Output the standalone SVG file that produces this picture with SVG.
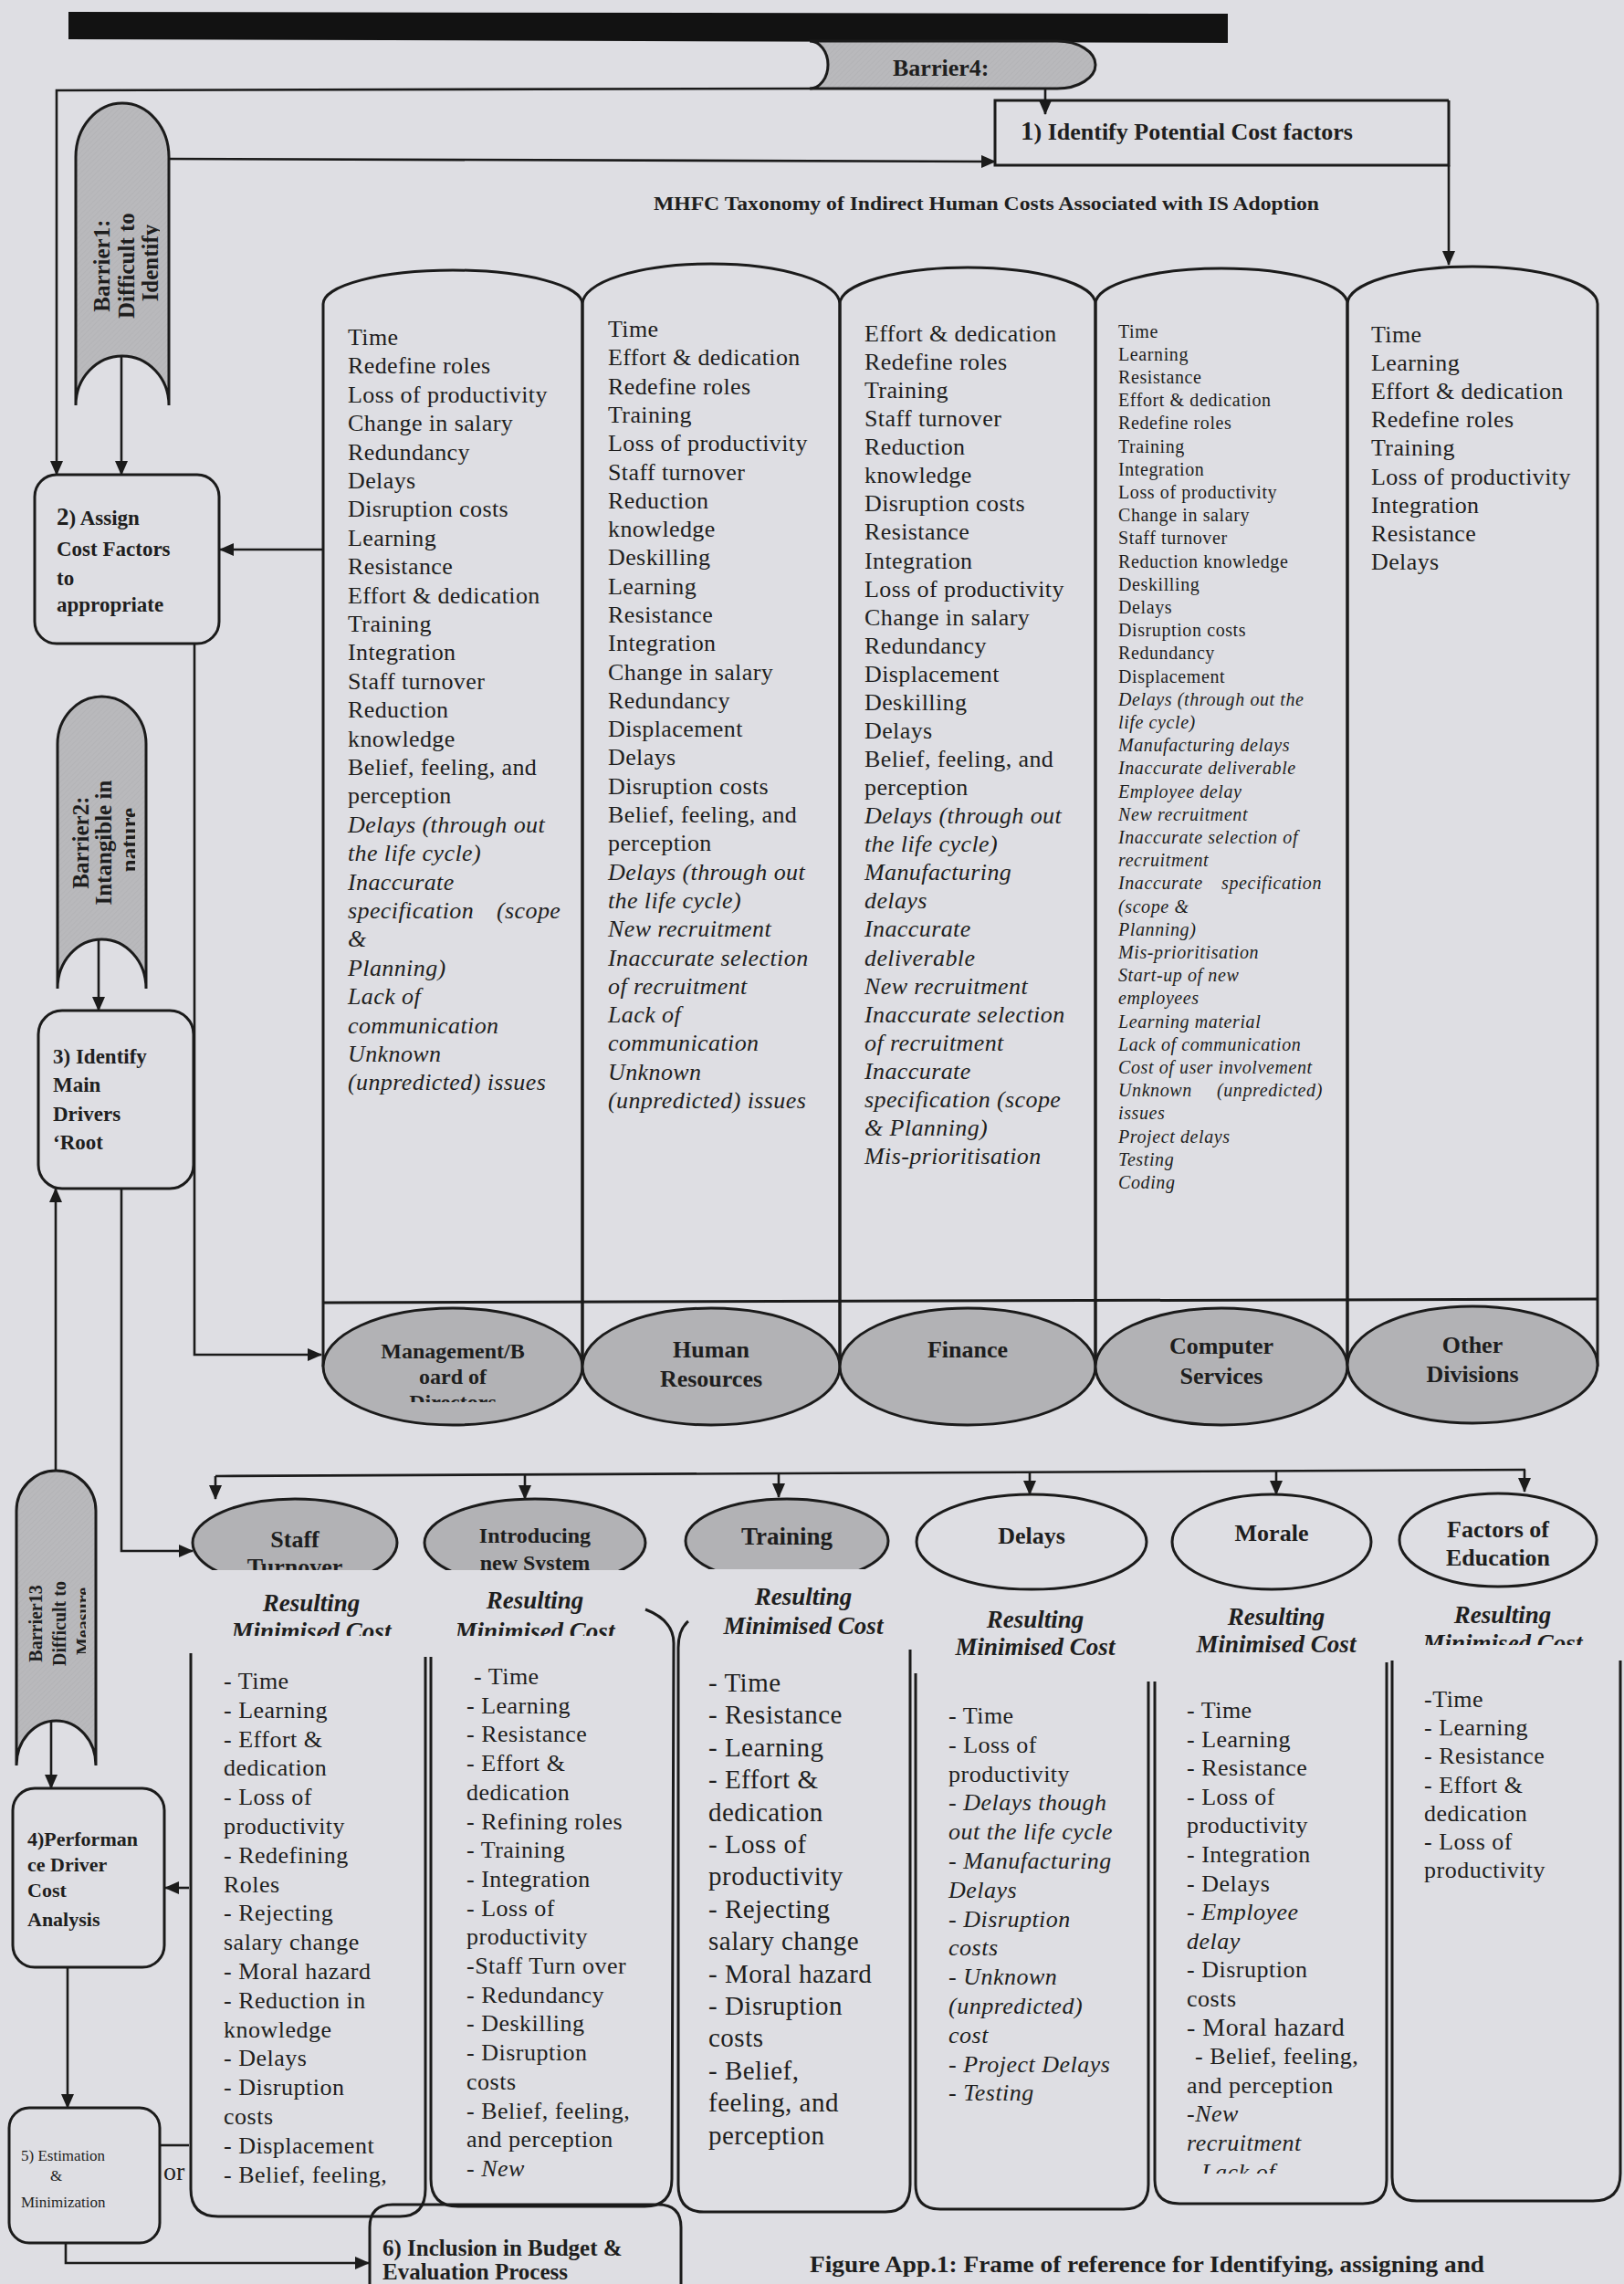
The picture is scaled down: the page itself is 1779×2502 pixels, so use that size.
<svg xmlns="http://www.w3.org/2000/svg" width="1779" height="2502" viewBox="0 0 1779 2502">
<defs>
<style>
.bg{fill:#dedee3}
.ln{fill:none;stroke:#1b1b1b;stroke-width:2.6}
.sh{fill:none;stroke:#1b1b1b;stroke-width:3}
.box{fill:none;stroke:#1b1b1b;stroke-width:3}
.bar{fill:url(#grain);stroke:#1b1b1b;stroke-width:3}
.ell{fill:#b2b2b5;stroke:#1b1b1b;stroke-width:3}
.oell{fill:none;stroke:#1b1b1b;stroke-width:3}
text{font-family:"Liberation Serif","Times New Roman",serif;fill:#1e1e1e}
.b{font-weight:bold}
.i{font-style:italic}
.col{font-size:26px;letter-spacing:0.4px}
.col4{font-size:20px;letter-spacing:0.6px}
.card{font-size:26px;letter-spacing:0.5px}
.card3{font-size:29px;letter-spacing:0.5px}
.step{font-size:23px;font-weight:bold}
.dept{font-size:26px;font-weight:bold}
.head{font-size:27px;font-weight:bold;font-style:italic}
</style>
<pattern id="grain" width="4" height="4" patternUnits="userSpaceOnUse" patternTransform="rotate(45)">
<rect width="4" height="4" fill="#b9b9bc"/>
<line x1="0" y1="0" x2="0" y2="4" stroke="#afafb2" stroke-width="1"/>
</pattern>
<marker id="ah" viewBox="0 0 16 14" refX="15" refY="7" markerWidth="16" markerHeight="14" markerUnits="userSpaceOnUse" orient="auto">
<path d="M0,0 L16,7 L0,14 Z" fill="#1b1b1b"/>
</marker>
<clipPath id="cB1"><rect x="80" y="100" width="95" height="360"/></clipPath>
<clipPath id="cB2"><rect x="60" y="750" width="88" height="340"/></clipPath>
<clipPath id="cB13"><rect x="15" y="1600" width="79" height="340"/></clipPath>
<clipPath id="cMgmt"><rect x="340" y="1420" width="320" height="116"/></clipPath>
<clipPath id="cStaff"><rect x="200" y="1630" width="250" height="90"/></clipPath>
<clipPath id="cIntro"><rect x="455" y="1630" width="265" height="90"/></clipPath>
<clipPath id="cTrain"><rect x="740" y="1630" width="245" height="89"/></clipPath>
<clipPath id="cH12"><rect x="200" y="1730" width="540" height="62"/></clipPath>
<clipPath id="cH6"><rect x="1520" y="1740" width="259" height="62"/></clipPath>
<clipPath id="cC5"><rect x="1262" y="1840" width="260" height="541"/></clipPath>
</defs>

<rect class="bg" x="0" y="0" width="1779" height="2502"/>

<!-- header band -->
<path d="M75,13 L1345,15 L1345,47 L75,43 Z" fill="#121212"/>

<!-- connectors -->
<g id="connectors">
<path class="ln" d="M890,97 L62,99 L62,520" marker-end="url(#ah)"/>
<path class="ln" d="M1145,97 L1145,125" marker-end="url(#ah)"/>
<path class="ln" d="M185,174 L1090,177" marker-end="url(#ah)"/>
<path class="ln" d="M1587,181 L1587,290" marker-end="url(#ah)"/>
<path class="ln" d="M133,390 L133,520" marker-end="url(#ah)"/>
<path class="ln" d="M354,602 L241,602" marker-end="url(#ah)"/>
<path class="ln" d="M213,705 L213,1484 L352,1484" marker-end="url(#ah)"/>
<path class="ln" d="M108,1029 L108,1107" marker-end="url(#ah)"/>
<path class="ln" d="M61,1611 L61,1302" marker-end="url(#ah)"/>
<path class="ln" d="M133,1302 L133,1699 L211,1699" marker-end="url(#ah)"/>
<path class="ln" d="M236,1617 L1671,1610"/>
<path class="ln" d="M236,1617 L236,1642" marker-end="url(#ah)"/>
<path class="ln" d="M575,1615 L575,1642" marker-end="url(#ah)"/>
<path class="ln" d="M853,1614 L853,1640" marker-end="url(#ah)"/>
<path class="ln" d="M1128,1613 L1128,1637" marker-end="url(#ah)"/>
<path class="ln" d="M1398,1612 L1398,1637" marker-end="url(#ah)"/>
<path class="ln" d="M1670,1610 L1670,1634" marker-end="url(#ah)"/>
<path class="ln" d="M56,1885 L56,1959" marker-end="url(#ah)"/>
<path class="ln" d="M207,2068 L181,2068" marker-end="url(#ah)"/>
<path class="ln" d="M74,2155 L74,2309" marker-end="url(#ah)"/>
<path class="ln" d="M175,2350 L207,2350"/>
<path class="ln" d="M72,2457 L72,2479 L404,2479" marker-end="url(#ah)"/>
</g>

<!-- barrier 4 -->
<g id="barrier4">
<path class="bar" d="M887,45 L1158,45 A42,26 0 0 1 1158,97 L887,97 A20,26 0 0 0 887,45 Z"/>
<text class="b" x="978" y="83" font-size="26">Barrier4:</text>
</g>

<!-- step 1 -->
<g id="step1">
<path class="box" d="M1587,110 L1090,110 L1090,181 L1587,181 L1587,110"/>
<text class="b" x="1118" y="153" font-size="26"><tspan font-size="29">1</tspan>) Identify Potential Cost factors</text>
</g>

<text class="b" x="716" y="230" font-size="20" textLength="729" lengthAdjust="spacingAndGlyphs">MHFC Taxonomy of Indirect Human Costs Associated with IS Adoption</text>

<!-- barrier 1 -->
<g id="barrier1">
<path class="bar" d="M83,444 L83,172 A51,59 0 0 1 185,172 L185,444 A51,54 0 0 0 83,444 Z"/>
<g clip-path="url(#cB1)">
<text class="b" font-size="25" text-anchor="middle" transform="translate(134,288) rotate(-90)">
<tspan x="0" y="-14">Barrier1:</tspan>
<tspan x="0" y="13">Difficult to</tspan>
<tspan x="0" y="39">Identify</tspan>
</text>
</g>
</g>

<!-- step 2 -->
<g id="step2">
<rect class="box" x="38" y="520" width="202" height="185" rx="24"/>
<text class="step" x="62" y="575"><tspan font-size="27">2</tspan>) Assign</text>
<text class="step" x="62" y="609">Cost Factors</text>
<text class="step" x="62" y="641">to</text>
<text class="step" x="62" y="670">appropriate</text>
</g>

<!-- barrier 2 -->
<g id="barrier2">
<path class="bar" d="M63,1083 L63,815 A48.5,52 0 0 1 160,815 L160,1083 A48.5,54 0 0 0 63,1083 Z"/>
<g clip-path="url(#cB2)">
<text class="b" font-size="25" text-anchor="middle" transform="translate(112,920) rotate(-90)">
<tspan x="0" y="-15">Barrier2:</tspan>
<tspan x="0" y="10">Intangible in</tspan>
<tspan x="0" y="38">nature</tspan>
</text>
</g>
</g>

<!-- step 3 -->
<g id="step3">
<rect class="box" x="42" y="1107" width="170" height="195" rx="26"/>
<text class="step" x="58" y="1165">3) Identify</text>
<text class="step" x="58" y="1196">Main</text>
<text class="step" x="58" y="1228">Drivers</text>
<text class="step" x="58" y="1259">‘Root</text>
</g>

<!-- department columns -->
<g id="columns">
<path class="sh" d="M354,1497 L354,333 A142,37 0 0 1 638,333 L638,1497"/>
<path class="sh" d="M638,1497 L638,333 A141,44 0 0 1 920,333 L920,1497"/>
<path class="sh" d="M920,1497 L920,333 A140,40 0 0 1 1200,333 L1200,1497"/>
<path class="sh" d="M1200,1497 L1200,333 A138,39 0 0 1 1476,333 L1476,1497"/>
<path class="sh" d="M1476,1497 L1476,333 A137,41 0 0 1 1750,333 L1750,1497"/>
<path class="sh" d="M354,1427 L1750,1423"/>
</g>

<g id="col-management">
<text class="col" x="381" y="378">
<tspan x="381">Time</tspan>
<tspan x="381" dy="31.4">Redefine roles</tspan>
<tspan x="381" dy="31.4">Loss of productivity</tspan>
<tspan x="381" dy="31.4">Change in salary</tspan>
<tspan x="381" dy="31.4">Redundancy</tspan>
<tspan x="381" dy="31.4">Delays</tspan>
<tspan x="381" dy="31.4">Disruption costs</tspan>
<tspan x="381" dy="31.4">Learning</tspan>
<tspan x="381" dy="31.4">Resistance</tspan>
<tspan x="381" dy="31.4">Effort &amp; dedication</tspan>
<tspan x="381" dy="31.4">Training</tspan>
<tspan x="381" dy="31.4">Integration</tspan>
<tspan x="381" dy="31.4">Staff turnover</tspan>
<tspan x="381" dy="31.4">Reduction</tspan>
<tspan x="381" dy="31.4">knowledge</tspan>
<tspan x="381" dy="31.4">Belief, feeling, and</tspan>
<tspan x="381" dy="31.4">perception</tspan>
<tspan class="i" x="381" dy="31.4">Delays (through out</tspan>
<tspan class="i" x="381" dy="31.4">the life cycle)</tspan>
<tspan class="i" x="381" dy="31.4">Inaccurate</tspan>
<tspan class="i" x="381" dy="31.4">specification</tspan><tspan class="i" x="544">(scope</tspan>
<tspan class="i" x="381" dy="31.4">&amp;</tspan>
<tspan class="i" x="381" dy="31.4">Planning)</tspan>
<tspan class="i" x="381" dy="31.4">Lack of</tspan>
<tspan class="i" x="381" dy="31.4">communication</tspan>
<tspan class="i" x="381" dy="31.4">Unknown</tspan>
<tspan class="i" x="381" dy="31.4">(unpredicted) issues</tspan>
</text>
<ellipse class="ell" cx="496" cy="1497" rx="142" ry="64"/>
<g clip-path="url(#cMgmt)">
<text class="b" font-size="24" text-anchor="middle"><tspan x="496" y="1488">Management/B</tspan><tspan x="496" y="1516">oard of</tspan><tspan x="496" y="1544">Directors</tspan></text>
</g>
</g>

<g id="col-hr">
<text class="col" x="666" y="369">
<tspan x="666">Time</tspan>
<tspan x="666" dy="31.3">Effort &amp; dedication</tspan>
<tspan x="666" dy="31.3">Redefine roles</tspan>
<tspan x="666" dy="31.3">Training</tspan>
<tspan x="666" dy="31.3">Loss of productivity</tspan>
<tspan x="666" dy="31.3">Staff turnover</tspan>
<tspan x="666" dy="31.3">Reduction</tspan>
<tspan x="666" dy="31.3">knowledge</tspan>
<tspan x="666" dy="31.3">Deskilling</tspan>
<tspan x="666" dy="31.3">Learning</tspan>
<tspan x="666" dy="31.3">Resistance</tspan>
<tspan x="666" dy="31.3">Integration</tspan>
<tspan x="666" dy="31.3">Change in salary</tspan>
<tspan x="666" dy="31.3">Redundancy</tspan>
<tspan x="666" dy="31.3">Displacement</tspan>
<tspan x="666" dy="31.3">Delays</tspan>
<tspan x="666" dy="31.3">Disruption costs</tspan>
<tspan x="666" dy="31.3">Belief, feeling, and</tspan>
<tspan x="666" dy="31.3">perception</tspan>
<tspan class="i" x="666" dy="31.3">Delays (through out</tspan>
<tspan class="i" x="666" dy="31.3">the life cycle)</tspan>
<tspan class="i" x="666" dy="31.3">New recruitment</tspan>
<tspan class="i" x="666" dy="31.3">Inaccurate selection</tspan>
<tspan class="i" x="666" dy="31.3">of recruitment</tspan>
<tspan class="i" x="666" dy="31.3">Lack of</tspan>
<tspan class="i" x="666" dy="31.3">communication</tspan>
<tspan class="i" x="666" dy="31.3">Unknown</tspan>
<tspan class="i" x="666" dy="31.3">(unpredicted) issues</tspan>
</text>
<ellipse class="ell" cx="779" cy="1497" rx="141" ry="64"/>
<text class="dept" text-anchor="middle"><tspan x="779" y="1487">Human</tspan><tspan x="779" y="1519">Resources</tspan></text>
</g>

<g id="col-finance">
<text class="col" x="947" y="374">
<tspan x="947">Effort &amp; dedication</tspan>
<tspan x="947" dy="31.07">Redefine roles</tspan>
<tspan x="947" dy="31.07">Training</tspan>
<tspan x="947" dy="31.07">Staff turnover</tspan>
<tspan x="947" dy="31.07">Reduction</tspan>
<tspan x="947" dy="31.07">knowledge</tspan>
<tspan x="947" dy="31.07">Disruption costs</tspan>
<tspan x="947" dy="31.07">Resistance</tspan>
<tspan x="947" dy="31.07">Integration</tspan>
<tspan x="947" dy="31.07">Loss of productivity</tspan>
<tspan x="947" dy="31.07">Change in salary</tspan>
<tspan x="947" dy="31.07">Redundancy</tspan>
<tspan x="947" dy="31.07">Displacement</tspan>
<tspan x="947" dy="31.07">Deskilling</tspan>
<tspan x="947" dy="31.07">Delays</tspan>
<tspan x="947" dy="31.07">Belief, feeling, and</tspan>
<tspan x="947" dy="31.07">perception</tspan>
<tspan class="i" x="947" dy="31.07">Delays (through out</tspan>
<tspan class="i" x="947" dy="31.07">the life cycle)</tspan>
<tspan class="i" x="947" dy="31.07">Manufacturing</tspan>
<tspan class="i" x="947" dy="31.07">delays</tspan>
<tspan class="i" x="947" dy="31.07">Inaccurate</tspan>
<tspan class="i" x="947" dy="31.07">deliverable</tspan>
<tspan class="i" x="947" dy="31.07">New recruitment</tspan>
<tspan class="i" x="947" dy="31.07">Inaccurate selection</tspan>
<tspan class="i" x="947" dy="31.07">of recruitment</tspan>
<tspan class="i" x="947" dy="31.07">Inaccurate</tspan>
<tspan class="i" x="947" dy="31.07">specification</tspan><tspan class="i" x="1092">(scope</tspan>
<tspan class="i" x="947" dy="31.07">&amp; Planning)</tspan>
<tspan class="i" x="947" dy="31.07">Mis-prioritisation</tspan>
</text>
<ellipse class="ell" cx="1060" cy="1497" rx="140" ry="64"/>
<text class="dept" text-anchor="middle" x="1060" y="1487">Finance</text>
</g>

<g id="col-computer">
<text class="col4" x="1225" y="369.5">
<tspan x="1225">Time</tspan>
<tspan x="1225" dy="25.2">Learning</tspan>
<tspan x="1225" dy="25.2">Resistance</tspan>
<tspan x="1225" dy="25.2">Effort &amp; dedication</tspan>
<tspan x="1225" dy="25.2">Redefine roles</tspan>
<tspan x="1225" dy="25.2">Training</tspan>
<tspan x="1225" dy="25.2">Integration</tspan>
<tspan x="1225" dy="25.2">Loss of productivity</tspan>
<tspan x="1225" dy="25.2">Change in salary</tspan>
<tspan x="1225" dy="25.2">Staff turnover</tspan>
<tspan x="1225" dy="25.2">Reduction knowledge</tspan>
<tspan x="1225" dy="25.2">Deskilling</tspan>
<tspan x="1225" dy="25.2">Delays</tspan>
<tspan x="1225" dy="25.2">Disruption costs</tspan>
<tspan x="1225" dy="25.2">Redundancy</tspan>
<tspan x="1225" dy="25.2">Displacement</tspan>
<tspan class="i" x="1225" dy="25.2">Delays (through out the</tspan>
<tspan class="i" x="1225" dy="25.2">life cycle)</tspan>
<tspan class="i" x="1225" dy="25.2">Manufacturing delays</tspan>
<tspan class="i" x="1225" dy="25.2">Inaccurate deliverable</tspan>
<tspan class="i" x="1225" dy="25.2">Employee delay</tspan>
<tspan class="i" x="1225" dy="25.2">New recruitment</tspan>
<tspan class="i" x="1225" dy="25.2">Inaccurate selection of</tspan>
<tspan class="i" x="1225" dy="25.2">recruitment</tspan>
<tspan class="i" x="1225" dy="25.2">Inaccurate</tspan><tspan class="i" x="1338">specification</tspan>
<tspan class="i" x="1225" dy="25.2">(scope &amp;</tspan>
<tspan class="i" x="1225" dy="25.2">Planning)</tspan>
<tspan class="i" x="1225" dy="25.2">Mis-prioritisation</tspan>
<tspan class="i" x="1225" dy="25.2">Start-up of new</tspan>
<tspan class="i" x="1225" dy="25.2">employees</tspan>
<tspan class="i" x="1225" dy="25.2">Learning material</tspan>
<tspan class="i" x="1225" dy="25.2">Lack of communication</tspan>
<tspan class="i" x="1225" dy="25.2">Cost of user involvement</tspan>
<tspan class="i" x="1225" dy="25.2">Unknown</tspan><tspan class="i" x="1333">(unpredicted)</tspan>
<tspan class="i" x="1225" dy="25.2">issues</tspan>
<tspan class="i" x="1225" dy="25.2">Project delays</tspan>
<tspan class="i" x="1225" dy="25.2">Testing</tspan>
<tspan class="i" x="1225" dy="25.2">Coding</tspan>
</text>
<ellipse class="ell" cx="1338" cy="1497" rx="138" ry="64"/>
<text class="dept" text-anchor="middle"><tspan x="1338" y="1483">Computer</tspan><tspan x="1338" y="1516">Services</tspan></text>
</g>

<g id="col-other">
<text class="col" x="1502" y="375">
<tspan x="1502">Time</tspan>
<tspan x="1502" dy="31.1">Learning</tspan>
<tspan x="1502" dy="31.1">Effort &amp; dedication</tspan>
<tspan x="1502" dy="31.1">Redefine roles</tspan>
<tspan x="1502" dy="31.1">Training</tspan>
<tspan x="1502" dy="31.1">Loss of productivity</tspan>
<tspan x="1502" dy="31.1">Integration</tspan>
<tspan x="1502" dy="31.1">Resistance</tspan>
<tspan x="1502" dy="31.1">Delays</tspan>
</text>
<ellipse class="ell" cx="1613" cy="1495" rx="137" ry="64"/>
<text class="dept" text-anchor="middle"><tspan x="1613" y="1482">Other</tspan><tspan x="1613" y="1514">Divisions</tspan></text>
</g>

<!-- barrier 13 -->
<g id="barrier13">
<path class="bar" d="M18,1934 L18,1655 A43.5,44 0 0 1 105,1655 L105,1934 A43.5,49 0 0 0 18,1934 Z"/>
<g clip-path="url(#cB13)">
<text class="b" font-size="20" text-anchor="middle" transform="translate(61,1776) rotate(-90)">
<tspan x="0" y="-15">Barrier13</tspan>
<tspan x="0" y="11">Difficult to</tspan>
<tspan x="0" y="37">Measure</tspan>
</text>
</g>
</g>

<!-- step 4 -->
<g id="step4">
<rect class="box" x="14" y="1959" width="166" height="196" rx="24"/>
<text class="b" font-size="22" x="30" y="2022">4)Performan</text>
<text class="b" font-size="22" x="30" y="2050">ce Driver</text>
<text class="b" font-size="22" x="30" y="2078">Cost</text>
<text class="b" font-size="22" x="30" y="2110">Analysis</text>
</g>

<!-- step 5 -->
<g id="step5">
<rect class="box" x="10" y="2309" width="165" height="148" rx="22"/>
<text font-size="17" x="23" y="2367">5) Estimation</text>
<text font-size="17" x="55" y="2389">&amp;</text>
<text font-size="17" x="23" y="2418">Minimization</text>
</g>
<text font-size="28" x="179" y="2388">or</text>

<!-- issue nodes -->
<g id="issue-staff-turnover">
<g clip-path="url(#cStaff)">
<ellipse class="ell" cx="323" cy="1690" rx="112" ry="48"/>
<text class="b" font-size="26" text-anchor="middle"><tspan x="323" y="1695">Staff</tspan><tspan x="323" y="1725">Turnover</tspan></text>
</g>
<path class="sh" d="M209,1811 L209,2398 Q209,2428 239,2428 L438,2428 Q466,2428 466,2398 L466,1815"/>
<g clip-path="url(#cH12)">
<text class="head" text-anchor="middle"><tspan x="341" y="1765">Resulting</tspan><tspan x="341" y="1796">Minimised Cost</tspan></text>
</g>
<text class="card" x="245" y="1850">
<tspan x="245">- Time</tspan>
<tspan x="245" dy="31.8">- Learning</tspan>
<tspan x="245" dy="31.8">- Effort &amp;</tspan>
<tspan x="245" dy="31.8">dedication</tspan>
<tspan x="245" dy="31.8">- Loss of</tspan>
<tspan x="245" dy="31.8">productivity</tspan>
<tspan x="245" dy="31.8">- Redefining</tspan>
<tspan x="245" dy="31.8">Roles</tspan>
<tspan x="245" dy="31.8">- Rejecting</tspan>
<tspan x="245" dy="31.8">salary change</tspan>
<tspan x="245" dy="31.8">- Moral hazard</tspan>
<tspan x="245" dy="31.8">- Reduction in</tspan>
<tspan x="245" dy="31.8">knowledge</tspan>
<tspan x="245" dy="31.8">- Delays</tspan>
<tspan x="245" dy="31.8">- Disruption</tspan>
<tspan x="245" dy="31.8">costs</tspan>
<tspan x="245" dy="31.8">- Displacement</tspan>
<tspan x="245" dy="31.8">- Belief, feeling,</tspan>
</text>
</g>

<g id="issue-new-system">
<g clip-path="url(#cIntro)">
<ellipse class="ell" cx="586" cy="1690" rx="121" ry="48"/>
<text class="b" font-size="24" text-anchor="middle"><tspan x="586" y="1690">Introducing</tspan><tspan x="586" y="1720">new System</tspan></text>
</g>
<path class="sh" d="M472,1815 L472,2387 Q472,2417 502,2417 L706,2417 Q736,2417 736,2387 L738,1800 Q738,1775 707,1763"/>
<g clip-path="url(#cH12)">
<text class="head" text-anchor="middle"><tspan x="586" y="1762">Resulting</tspan><tspan x="586" y="1796">Minimised Cost</tspan></text>
</g>
<text class="card" x="511" y="1845">
<tspan x="519">- Time</tspan>
<tspan x="511" dy="31.7">- Learning</tspan>
<tspan x="511" dy="31.7">- Resistance</tspan>
<tspan x="511" dy="31.7">- Effort &amp;</tspan>
<tspan x="511" dy="31.7">dedication</tspan>
<tspan x="511" dy="31.7">- Refining roles</tspan>
<tspan x="511" dy="31.7">- Training</tspan>
<tspan x="511" dy="31.7">- Integration</tspan>
<tspan x="511" dy="31.7">- Loss of</tspan>
<tspan x="511" dy="31.7">productivity</tspan>
<tspan x="511" dy="31.7">-Staff Turn over</tspan>
<tspan x="511" dy="31.7">- Redundancy</tspan>
<tspan x="511" dy="31.7">- Deskilling</tspan>
<tspan x="511" dy="31.7">- Disruption</tspan>
<tspan x="511" dy="31.7">costs</tspan>
<tspan x="511" dy="31.7">- Belief, feeling,</tspan>
<tspan x="511" dy="31.7">and perception</tspan>
<tspan x="511" dy="31.7">- <tspan class="i">New</tspan></tspan>
</text>
</g>

<g id="issue-training">
<g clip-path="url(#cTrain)">
<ellipse class="ell" cx="862" cy="1688" rx="111" ry="46"/>
<text class="b" font-size="27" text-anchor="middle" x="862" y="1692">Training</text>
</g>
<path class="sh" d="M754,1776 Q743,1785 743,1805 L743,2393 Q743,2423 771,2423 L970,2423 Q997,2423 997,2393 L997,1807"/>
<text class="head" text-anchor="middle"><tspan x="880" y="1758">Resulting</tspan><tspan x="880" y="1790">Minimised Cost</tspan></text>
<text class="card3" x="776" y="1853">
<tspan x="776">- Time</tspan>
<tspan x="776" dy="35.4">- Resistance</tspan>
<tspan x="776" dy="35.4">- Learning</tspan>
<tspan x="776" dy="35.4">- Effort &amp;</tspan>
<tspan x="776" dy="35.4">dedication</tspan>
<tspan x="776" dy="35.4">- Loss of</tspan>
<tspan x="776" dy="35.4">productivity</tspan>
<tspan x="776" dy="35.4">- Rejecting</tspan>
<tspan x="776" dy="35.4">salary change</tspan>
<tspan x="776" dy="35.4">- Moral hazard</tspan>
<tspan x="776" dy="35.4">- Disruption</tspan>
<tspan x="776" dy="35.4">costs</tspan>
<tspan x="776" dy="35.4">- Belief,</tspan>
<tspan x="776" dy="35.4">feeling, and</tspan>
<tspan x="776" dy="35.4">perception</tspan>
</text>
</g>

<g id="issue-delays">
<ellipse class="oell" cx="1130" cy="1689" rx="126" ry="52"/>
<text class="b" font-size="26" text-anchor="middle" x="1130" y="1691">Delays</text>
<path class="sh" d="M1003,1833 L1003,2393 Q1003,2420 1030,2420 L1231,2420 Q1258,2420 1258,2393 L1258,1842"/>
<text class="head" text-anchor="middle"><tspan x="1134" y="1783">Resulting</tspan><tspan x="1134" y="1813">Minimised Cost</tspan></text>
<text class="card" x="1039" y="1888">
<tspan x="1039">- Time</tspan>
<tspan x="1039" dy="31.8">- Loss of</tspan>
<tspan x="1039" dy="31.8">productivity</tspan>
<tspan class="i" x="1039" dy="31.8">- Delays though</tspan>
<tspan class="i" x="1039" dy="31.8">out the life cycle</tspan>
<tspan class="i" x="1039" dy="31.8">- Manufacturing</tspan>
<tspan class="i" x="1039" dy="31.8">Delays</tspan>
<tspan class="i" x="1039" dy="31.8">- Disruption</tspan>
<tspan class="i" x="1039" dy="31.8">costs</tspan>
<tspan class="i" x="1039" dy="31.8">- Unknown</tspan>
<tspan class="i" x="1039" dy="31.8">(unpredicted)</tspan>
<tspan class="i" x="1039" dy="31.8">cost</tspan>
<tspan class="i" x="1039" dy="31.8">- Project Delays</tspan>
<tspan class="i" x="1039" dy="31.8">- Testing</tspan>
</text>
</g>

<g id="issue-morale">
<ellipse class="oell" cx="1393" cy="1689" rx="109" ry="52"/>
<text class="b" font-size="26" text-anchor="middle" x="1393" y="1688">Morale</text>
<path class="sh" d="M1265,1842 L1265,2388 Q1265,2414 1292,2414 L1493,2414 Q1519,2414 1519,2388 L1519,1821"/>
<text class="head" text-anchor="middle"><tspan x="1398" y="1780">Resulting</tspan><tspan x="1398" y="1810">Minimised Cost</tspan></text>
<g clip-path="url(#cC5)">
<text class="card" x="1300" y="1882">
<tspan x="1300">- Time</tspan>
<tspan x="1300" dy="31.6">- Learning</tspan>
<tspan x="1300" dy="31.6">- Resistance</tspan>
<tspan x="1300" dy="31.6">- Loss of</tspan>
<tspan x="1300" dy="31.6">productivity</tspan>
<tspan x="1300" dy="31.6">- Integration</tspan>
<tspan x="1300" dy="31.6">- Delays</tspan>
<tspan class="i" x="1300" dy="31.6">- Employee</tspan>
<tspan class="i" x="1300" dy="31.6">delay</tspan>
<tspan x="1300" dy="31.6">- Disruption</tspan>
<tspan x="1300" dy="31.6">costs</tspan>
<tspan x="1300" dy="31.6" font-size="28">- Moral hazard</tspan>
<tspan x="1309" dy="31.6">- Belief, feeling,</tspan>
<tspan x="1300" dy="31.6">and perception</tspan>
<tspan class="i" x="1300" dy="31.6">-New</tspan>
<tspan class="i" x="1300" dy="31.6">recruitment</tspan>
<tspan class="i" x="1300" dy="31.6">- Lack of</tspan>
</text>
</g>
</g>

<g id="issue-education">
<ellipse class="oell" cx="1641" cy="1687" rx="108" ry="51"/>
<text class="b" font-size="26" text-anchor="middle"><tspan x="1641" y="1684">Factors of</tspan><tspan x="1641" y="1715">Education</tspan></text>
<path class="sh" d="M1525,1819 L1525,2385 Q1525,2411 1552,2411 L1745,2411 Q1775,2411 1775,2381 L1775,1819"/>
<g clip-path="url(#cH6)">
<text class="head" text-anchor="middle"><tspan x="1646" y="1778">Resulting</tspan><tspan x="1646" y="1809">Minimised Cost</tspan></text>
</g>
<text class="card" x="1560" y="1870">
<tspan x="1560">-Time</tspan>
<tspan x="1560" dy="31.2">- Learning</tspan>
<tspan x="1560" dy="31.2">- Resistance</tspan>
<tspan x="1560" dy="31.2">- Effort &amp;</tspan>
<tspan x="1560" dy="31.2">dedication</tspan>
<tspan x="1560" dy="31.2">- Loss of</tspan>
<tspan x="1560" dy="31.2">productivity</tspan>
</text>
</g>

<!-- step 6 -->
<g id="step6">
<path class="box" d="M405,2510 L405,2440 Q405,2415 430,2415 L721,2415 Q746,2415 746,2440 L746,2510" fill="#dedee3"/>
<text class="b" font-size="25" x="419" y="2471">6) Inclusion in Budget &amp;</text>
<text class="b" font-size="25" x="419" y="2497">Evaluation Process</text>
</g>

<text class="b" font-size="26" x="887" y="2489" textLength="739" lengthAdjust="spacingAndGlyphs">Figure App.1: Frame of reference for Identifying, assigning and</text>
</svg>
